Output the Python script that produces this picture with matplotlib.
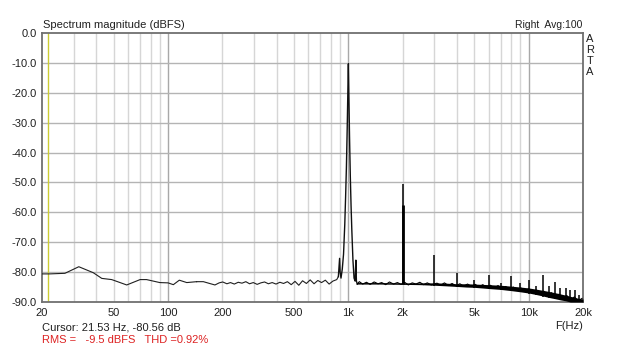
import matplotlib
matplotlib.use("Agg")
import matplotlib.pyplot as plt
from matplotlib.ticker import FixedLocator, NullFormatter

plt.rcParams['font.family'] = ['Liberation Sans', 'DejaVu Sans']

# ---- data ----
low_freq = [20, 22, 26.8, 32, 38.5, 42.9, 48.7, 59, 70, 76, 90, 100, 107, 115.5, 127, 144]
low_db = [-80.6, -80.6, -80.4, -78.2, -80.2, -82.1, -82.5, -84.3, -82.5, -82.5, -83.5, -83.6, -84.2, -82.7, -83.5, -83.2]

mid_freq = [157, 170, 182, 192, 201, 212, 222, 233, 245, 257, 270, 283, 297, 312, 327, 343,
            360, 378, 397, 417, 437, 459, 482, 506, 531, 557, 585, 614, 645, 677, 710, 745,
            782, 821, 862, 880]
mid_db = [-83.2, -83.8, -84.3, -83.6, -83.3, -83.9, -83.5, -84.0, -83.4, -83.7, -83.2, -83.9,
          -83.5, -84.1, -83.6, -83.3, -83.9, -83.5, -84.0, -83.4, -83.8, -83.2, -84.2, -83.1,
          -84.4, -82.9, -83.8, -82.6, -83.9, -82.8, -83.5, -82.7, -84.0, -83.0, -82.5, -81.5]

peak_freq = [880, 894, 900, 910, 925, 940, 955, 965, 975, 985, 993, 1000, 1007, 1015, 1025,
             1035, 1045, 1060, 1075, 1090, 1100, 1108, 1120]
peak_db = [-81.5, -75.4, -80.0, -82.0, -79.0, -74.0, -64.0, -55.0, -45.0, -32.0, -20.0, -10.3,
           -22.0, -35.0, -48.0, -58.0, -66.0, -76.0, -82.0, -83.0, -76.0, -83.0, -84.0]

band_freq = [1120, 1500, 2000, 2500, 3000, 3500, 4000, 4500, 5000,
             5500, 6000, 7000, 8000, 9000, 10000, 11000, 12000, 13000, 14000, 15000, 16000,
             17000, 18000, 19000, 20000]
band_upper = [-83.5, -83.5, -83.6, -83.6, -83.6, -83.7, -83.9,
              -83.9, -84.0, -84.1, -84.2, -84.4, -84.7, -85.0, -85.3, -85.7, -86.1, -86.5,
              -86.9, -87.3, -87.7, -88.1, -88.5, -88.8, -89.0]
band_lower = [-84.0, -84.0, -84.1, -84.2, -84.4, -84.6, -84.8,
              -85.0, -85.1, -85.3, -85.5, -85.8, -86.2, -86.6, -87.0, -87.5, -88.0, -88.5,
              -88.9, -89.3, -89.6, -90.0, -90.0, -90.0, -90.0]

jag_freq = [1120, 1150, 1200, 1260, 1320, 1390, 1460, 1530, 1610, 1690, 1780, 1870, 1960, 2050,
            2150, 2260, 2370, 2490, 2610, 2740, 2880, 3100, 3250, 3410, 3580, 3760, 3950, 4150,
            4360, 4580, 4810, 5050, 5300, 5560, 5840, 6130, 6440, 6760, 7100, 7450, 7820, 8210,
            8620, 9050, 9500, 9980, 10480, 11000, 11550, 12130, 12740, 13370, 14040, 14740,
            15480, 16250, 17060, 17910, 18810, 19750]
jag_db = [-84.0, -83.2, -84.0, -83.4, -84.1, -83.3, -83.9, -83.5, -84.2, -83.3, -84.0, -83.5,
          -84.1, -83.4, -84.3, -83.6, -84.0, -83.4, -84.2, -83.6, -84.3, -83.7, -84.4, -83.6,
          -84.5, -83.8, -84.6, -83.9, -84.7, -84.0, -84.8, -84.1, -85.0, -84.2, -85.1, -84.4,
          -85.3, -84.5, -85.5, -84.8, -85.8, -85.0, -86.1, -85.3, -86.4, -85.6, -86.8, -86.0,
          -87.3, -86.4, -87.8, -86.9, -88.3, -87.4, -88.8, -87.8, -89.3, -88.3, -89.6, -88.8]

harm_freq = [2000, 3000, 4000, 5000, 6000, 7000, 8000, 9000, 10000, 11000, 12000, 13000,
             14000, 15000, 16000, 17000, 18000, 19000]
harm_db = [-50.5, -74.4, -80.3, -82.6, -81.1, -83.8, -81.4, -83.5, -82.6, -84.5, -81.1,
           -84.8, -83.4, -85.4, -85.4, -86.0, -86.0, -87.6]
harm_base = [-84.0, -84.7, -85.0, -85.2, -85.6, -85.9, -86.3, -86.8, -87.2, -87.7, -88.2,
             -88.7, -89.1, -89.4, -89.7, -90.0, -90.0, -90.0]

y_ticks = [0, -10, -20, -30, -40, -50, -60, -70, -80, -90]
y_labels = ["0.0", "-10.0", "-20.0", "-30.0", "-40.0", "-50.0", "-60.0", "-70.0", "-80.0", "-90.0"]
x_ticks = [20, 50, 100, 200, 500, 1000, 2000, 5000, 10000, 20000]
x_labels = ["20", "50", "100", "200", "500", "1k", "2k", "5k", "10k", "20k"]
minor_grid = [30, 40, 50, 60, 70, 80, 90, 200, 300, 400, 500, 600, 700, 800, 900,
              2000, 3000, 4000, 5000, 6000, 7000, 8000, 9000]
major_grid = [100, 1000, 10000]
cursor_freq = 21.53

# ---- figure ----
fig = plt.figure(figsize=(6.24, 3.47), dpi=100)
ax = fig.add_axes([42 / 624, 1 - 302 / 347, (583 - 42) / 624, (302 - 33) / 347])
ax.set_xscale('log')
ax.set_xlim(20, 20000)
ax.set_ylim(-90, 0)

for f in minor_grid:
    ax.axvline(f, color='#d6d6d6', lw=1.0, zorder=1)
for f in major_grid:
    ax.axvline(f, color='#a8a8a8', lw=1.0, zorder=1)
for v in y_ticks[1:-1]:
    ax.axhline(v, color='#b4b4b4', lw=1.0, zorder=1)

ax.axvline(cursor_freq, color='#cccc33', lw=1.0, zorder=2)

lw = 0.8
ax.plot(low_freq, low_db, color='#202020', lw=lw, zorder=3)
ax.plot([low_freq[-1]] + mid_freq, [low_db[-1]] + mid_db, color='#202020', lw=lw, zorder=3)
ax.plot(peak_freq, peak_db, color='#101010', lw=1.0, zorder=3)
ax.fill_between(band_freq, band_lower, band_upper, color='black', lw=0, zorder=3)
ax.plot(jag_freq, jag_db, color='black', lw=0.8, zorder=3)
ax.vlines(harm_freq, harm_base, harm_db, color='black', lw=1.1, zorder=4)
ax.vlines([2000], [-84.0], [-57.5], color='black', lw=2.0, zorder=4)

ax.xaxis.set_major_locator(FixedLocator(x_ticks))
ax.xaxis.set_minor_locator(FixedLocator([]))
ax.xaxis.set_minor_formatter(NullFormatter())
ax.set_xticklabels(x_labels)
ax.set_yticks(y_ticks)
ax.set_yticklabels(y_labels)
ax.tick_params(axis='both', length=0, labelsize=8, colors='#202020', pad=4)
for s in ax.spines.values():
    s.set_color('#707070')
    s.set_linewidth(1.3)

fig.text(43 / 624, 1 - 25 / 347, "Spectrum magnitude (dBFS)", fontsize=8, ha='left', va='center', color='#202020')
fig.text(582 / 624, 1 - 25 / 347, "Right  Avg:100", fontsize=7.5, ha='right', va='center', color='#202020')
for i, ch in enumerate("ARTA"):
    fig.text(590 / 624, 1 - (39 + i * 11) / 347, ch, fontsize=8, ha='center', va='center', color='#202020')
fig.text(42 / 624, 1 - 327 / 347, "Cursor: 21.53 Hz, -80.56 dB", fontsize=8, ha='left', va='center', color='#202020')
fig.text(42 / 624, 1 - 340 / 347, "RMS =   -9.5 dBFS   THD =0.92%", fontsize=8, ha='left', va='center', color='#dd2222')
fig.text(583 / 624, 1 - 326 / 347, "F(Hz)", fontsize=8, ha='right', va='center', color='#202020')

fig.savefig("out.png", dpi=100)
